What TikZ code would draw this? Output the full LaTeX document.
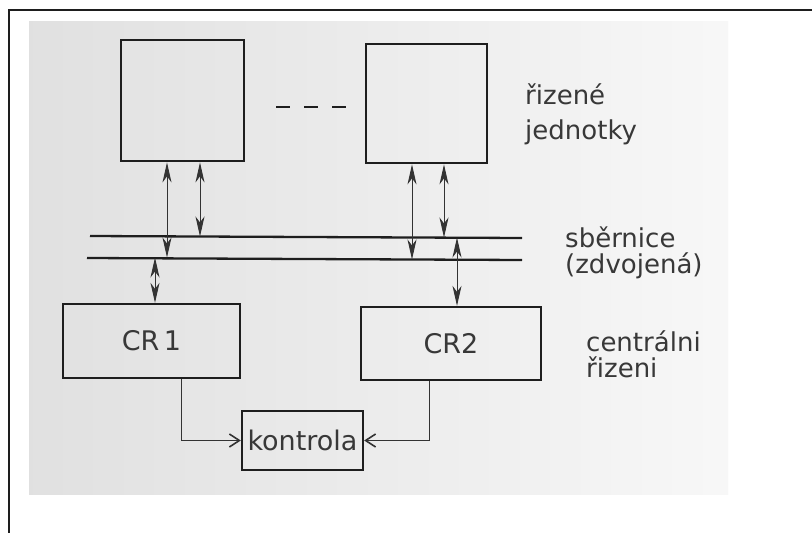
\documentclass[tikz,border=0pt]{standalone}
\usepackage{fontspec}
\setmainfont{DejaVu Sans}
\usetikzlibrary{arrows.meta}
\definecolor{ink}{HTML}{1E1E1E}
\definecolor{txt}{HTML}{383838}
\definecolor{thin}{HTML}{333333}
\begin{document}
\begin{tikzpicture}[x=1pt,y=-1pt,
  unitbox/.style={draw=ink,line width=2.8pt,inner sep=0pt},
  crbox/.style={draw=ink,line width=2.3pt,inner sep=0pt,font=\fontsize{27}{30}\selectfont,text=txt},
  bus/.style={draw=ink,line width=2.3pt},
  tip/.tip={Stealth[length=20pt,width=9pt,inset=6pt]},
  biarrow/.style={draw=thin,line width=1pt,tip-tip},
  ctl/.style={draw=thin,line width=1pt,-{Straight Barb[length=10pt,width=13pt,line width=1.6pt]}},
  lbl/.style={anchor=base west,inner sep=0pt,text=txt,font=\fontsize{26}{30}\selectfont}]
\useasboundingbox (0,0) rectangle (812,533);
\fill[white] (0,0) rectangle (812,533);
\shade[left color=black!12,right color=black!3] (29,21) rectangle (728,494);
\draw[line width=2.2pt,ink] (812,10) -- (9,10) -- (9,533);
% controlled units
\node[unitbox,minimum width=123,minimum height=121] (u1) at (182.5,100.5) {};
\node[unitbox,minimum width=121,minimum height=119] (u2) at (426.5,103.5) {};
\coordinate (d1) at (276,107);
\coordinate (d2) at (347,107);
\draw[ink,line width=2.6pt,dash pattern=on 14pt off 14pt] (d1) -- (d2);
% bus
\coordinate (b1l) at (90,236);
\coordinate (b1r) at (522,238);
\coordinate (b2l) at (87,258);
\coordinate (b2r) at (522,260);
\draw[bus] (b1l) -- (b1r);
\draw[bus] (b2l) -- (b2r);
% central control
\node[crbox,minimum width=177,minimum height=74] (cr1) at (151.5,341) {CR\,1};
\node[crbox,minimum width=180,minimum height=73] (cr2) at (451,343.5) {CR2};
\node[crbox,minimum width=121,minimum height=59] (kon) at (302.5,440.5) {kontrola};
% bus taps
\coordinate (a1) at (167,257.5);
\coordinate (a2) at (200,236.5);
\coordinate (a3) at (155,257.5);
\coordinate (a4) at (412,259.5);
\coordinate (a5) at (444,237.5);
\coordinate (a6) at (457,237.5);
\draw[biarrow] (a1 |- u1.south) -- (a1);
\draw[biarrow] (a2 |- u1.south) -- (a2);
\draw[biarrow] (a3) -- (a3 |- cr1.north);
\draw[biarrow] (a4 |- u2.south) -- (a4);
\draw[biarrow] (a5 |- u2.south) -- (a5);
\draw[biarrow] (a6) -- (a6 |- cr2.north);
% control lines
\coordinate (k1) at (181,0);
\coordinate (k2) at (429,0);
\draw[ctl] (k1 |- cr1.south) |- (kon.west);
\draw[ctl] (k2 |- cr2.south) |- (kon.east);
% labels
\node[lbl] (l1) at (525,104) {řizené};
\node[lbl] (l2) at (525,139) {jednotky};
\node[lbl] (l3) at (565,247) {sběrnice};
\node[lbl] (l4) at (565,273) {(zdvojená)};
\node[lbl] (l5) at (586,351) {centrálni};
\node[lbl] (l6) at (586,377) {řizeni};
\end{tikzpicture}
\end{document}
